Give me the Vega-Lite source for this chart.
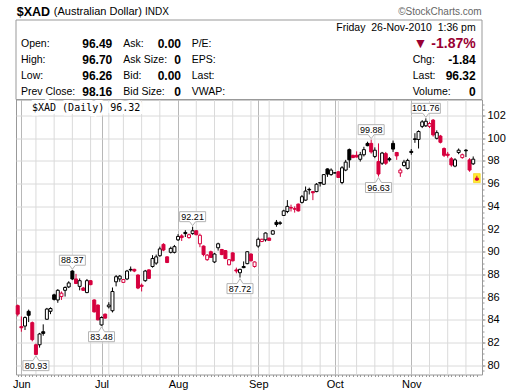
{
  "$schema": "https://vega.github.io/schema/vega-lite/v6.json",
  "background": "white",
  "autosize": {"type": "none"},
  "width": 466,
  "height": 275,
  "padding": {"left": 16, "top": 99.5, "right": 38, "bottom": 16.5},
  "config": {
    "font": "Liberation Sans",
    "view": {"stroke": "#999999", "strokeWidth": 1},
    "axis": {"labelFont": "Liberation Sans", "title": null}
  },
  "datasets": {
    "ohlc": [
      {"date":"2010-05-28","open":85.25,"high":85.35,"low":84.3,"close":84.5,"dir":"dn"},
      {"date":"2010-06-01","open":83.4,"high":84.3,"low":82.95,"close":83.3,"dir":"dn"},
      {"date":"2010-06-02","open":83.45,"high":84.3,"low":83.1,"close":84.2,"dir":"up"},
      {"date":"2010-06-03","open":84.75,"high":84.9,"low":83.8,"close":84.4,"dir":"up"},
      {"date":"2010-06-04","open":83.75,"high":83.85,"low":82.1,"close":82.25,"dir":"dn"},
      {"date":"2010-06-07","open":81.8,"high":81.9,"low":80.93,"close":80.95,"dir":"dn"},
      {"date":"2010-06-08","open":81.8,"high":82.85,"low":81.55,"close":82.75,"dir":"up"},
      {"date":"2010-06-09","open":82.95,"high":83.6,"low":82.6,"close":82.8,"dir":"up"},
      {"date":"2010-06-10","open":84.05,"high":85.05,"low":84.0,"close":84.95,"dir":"up"},
      {"date":"2010-06-11","open":84.75,"high":85.1,"low":84.5,"close":85.0,"dir":"up"},
      {"date":"2010-06-14","open":86.2,"high":86.3,"low":85.7,"close":85.8,"dir":"up"},
      {"date":"2010-06-15","open":85.75,"high":86.7,"low":85.5,"close":86.6,"dir":"up"},
      {"date":"2010-06-16","open":86.05,"high":86.5,"low":85.75,"close":86.35,"dir":"dn"},
      {"date":"2010-06-17","open":86.6,"high":86.95,"low":86.05,"close":86.85,"dir":"up"},
      {"date":"2010-06-18","open":86.9,"high":87.4,"low":86.8,"close":87.25,"dir":"up"},
      {"date":"2010-06-21","open":88.3,"high":88.37,"low":87.5,"close":87.6,"dir":"up"},
      {"date":"2010-06-22","open":87.6,"high":88.05,"low":87.15,"close":87.2,"dir":"dn"},
      {"date":"2010-06-23","open":86.95,"high":87.65,"low":86.6,"close":87.45,"dir":"up"},
      {"date":"2010-06-24","open":86.8,"high":86.9,"low":86.55,"close":86.6,"dir":"dn"},
      {"date":"2010-06-25","open":86.4,"high":87.6,"low":86.35,"close":87.45,"dir":"up"},
      {"date":"2010-06-28","open":87.45,"high":87.5,"low":87.05,"close":87.1,"dir":"dn"},
      {"date":"2010-06-29","open":85.75,"high":85.8,"low":84.65,"close":84.7,"dir":"dn"},
      {"date":"2010-06-30","open":85.3,"high":85.35,"low":83.95,"close":84.0,"dir":"dn"},
      {"date":"2010-07-01","open":83.55,"high":84.3,"low":83.48,"close":84.2,"dir":"up"},
      {"date":"2010-07-02","open":84.5,"high":84.55,"low":84.1,"close":84.15,"dir":"dn"},
      {"date":"2010-07-06","open":85.15,"high":85.55,"low":85.0,"close":85.3,"dir":"up"},
      {"date":"2010-07-07","open":84.8,"high":86.85,"low":84.65,"close":86.5,"dir":"up"},
      {"date":"2010-07-08","open":87.35,"high":87.95,"low":86.95,"close":87.8,"dir":"up"},
      {"date":"2010-07-09","open":87.6,"high":87.95,"low":87.35,"close":87.85,"dir":"up"},
      {"date":"2010-07-12","open":87.3,"high":87.6,"low":87.25,"close":87.55,"dir":"dn"},
      {"date":"2010-07-13","open":87.6,"high":88.4,"low":87.5,"close":88.3,"dir":"up"},
      {"date":"2010-07-14","open":88.45,"high":88.7,"low":88.25,"close":88.4,"dir":"up"},
      {"date":"2010-07-15","open":88.45,"high":88.5,"low":88.2,"close":88.3,"dir":"dn"},
      {"date":"2010-07-16","open":87.95,"high":88.0,"low":86.7,"close":86.8,"dir":"dn"},
      {"date":"2010-07-19","open":87.05,"high":87.2,"low":86.5,"close":86.95,"dir":"dn"},
      {"date":"2010-07-20","open":87.45,"high":88.4,"low":87.35,"close":88.3,"dir":"up"},
      {"date":"2010-07-21","open":88.4,"high":88.45,"low":87.6,"close":87.65,"dir":"dn"},
      {"date":"2010-07-22","open":88.7,"high":89.7,"low":88.6,"close":89.4,"dir":"up"},
      {"date":"2010-07-23","open":89.0,"high":89.75,"low":88.85,"close":89.55,"dir":"up"},
      {"date":"2010-07-26","open":89.65,"high":90.45,"low":89.55,"close":90.25,"dir":"up"},
      {"date":"2010-07-27","open":90.65,"high":90.75,"low":90.05,"close":90.15,"dir":"dn"},
      {"date":"2010-07-28","open":89.55,"high":89.6,"low":89.0,"close":89.05,"dir":"dn"},
      {"date":"2010-07-29","open":89.95,"high":90.45,"low":89.85,"close":90.3,"dir":"up"},
      {"date":"2010-07-30","open":89.95,"high":90.6,"low":89.85,"close":90.45,"dir":"up"},
      {"date":"2010-08-02","open":91.05,"high":91.55,"low":90.95,"close":91.35,"dir":"up"},
      {"date":"2010-08-03","open":91.4,"high":91.55,"low":90.95,"close":91.25,"dir":"dn"},
      {"date":"2010-08-04","open":91.7,"high":91.9,"low":91.3,"close":91.6,"dir":"up"},
      {"date":"2010-08-05","open":91.25,"high":91.6,"low":91.15,"close":91.5,"dir":"dn"},
      {"date":"2010-08-06","open":91.6,"high":92.21,"low":91.5,"close":91.85,"dir":"up"},
      {"date":"2010-08-09","open":91.85,"high":91.9,"low":91.45,"close":91.5,"dir":"dn"},
      {"date":"2010-08-10","open":90.7,"high":91.6,"low":90.4,"close":91.45,"dir":"dn"},
      {"date":"2010-08-11","open":90.5,"high":90.55,"low":89.6,"close":89.75,"dir":"dn"},
      {"date":"2010-08-12","open":89.3,"high":89.8,"low":89.2,"close":89.7,"dir":"dn"},
      {"date":"2010-08-13","open":90.0,"high":90.1,"low":89.45,"close":89.5,"dir":"dn"},
      {"date":"2010-08-16","open":89.1,"high":89.9,"low":89.0,"close":89.8,"dir":"up"},
      {"date":"2010-08-17","open":90.35,"high":90.8,"low":90.1,"close":90.7,"dir":"up"},
      {"date":"2010-08-18","open":90.2,"high":90.25,"low":89.7,"close":89.75,"dir":"dn"},
      {"date":"2010-08-19","open":90.1,"high":90.15,"low":89.35,"close":89.4,"dir":"dn"},
      {"date":"2010-08-20","open":88.85,"high":89.35,"low":88.8,"close":89.3,"dir":"dn"},
      {"date":"2010-08-23","open":89.9,"high":89.95,"low":89.15,"close":89.2,"dir":"dn"},
      {"date":"2010-08-24","open":88.4,"high":88.6,"low":88.1,"close":88.3,"dir":"dn"},
      {"date":"2010-08-25","open":88.15,"high":88.5,"low":87.72,"close":88.45,"dir":"up"},
      {"date":"2010-08-26","open":88.7,"high":89.15,"low":88.55,"close":88.6,"dir":"up"},
      {"date":"2010-08-27","open":88.95,"high":90.05,"low":88.9,"close":90.0,"dir":"up"},
      {"date":"2010-08-30","open":89.8,"high":89.85,"low":89.15,"close":89.2,"dir":"dn"},
      {"date":"2010-08-31","open":88.7,"high":89.15,"low":88.6,"close":89.1,"dir":"dn"},
      {"date":"2010-09-01","open":90.5,"high":91.25,"low":90.35,"close":91.1,"dir":"up"},
      {"date":"2010-09-02","open":90.9,"high":91.15,"low":90.85,"close":91.1,"dir":"dn"},
      {"date":"2010-09-03","open":91.05,"high":91.7,"low":90.9,"close":91.65,"dir":"up"},
      {"date":"2010-09-07","open":91.2,"high":91.25,"low":90.95,"close":91.0,"dir":"dn"},
      {"date":"2010-09-08","open":91.55,"high":91.9,"low":91.5,"close":91.85,"dir":"up"},
      {"date":"2010-09-09","open":92.6,"high":92.8,"low":92.2,"close":92.4,"dir":"up"},
      {"date":"2010-09-10","open":92.55,"high":92.7,"low":92.35,"close":92.5,"dir":"up"},
      {"date":"2010-09-13","open":93.2,"high":93.7,"low":93.15,"close":93.6,"dir":"up"},
      {"date":"2010-09-14","open":93.55,"high":94.55,"low":93.4,"close":94.0,"dir":"up"},
      {"date":"2010-09-15","open":93.9,"high":94.15,"low":93.55,"close":93.85,"dir":"dn"},
      {"date":"2010-09-16","open":93.8,"high":94.0,"low":93.45,"close":93.75,"dir":"dn"},
      {"date":"2010-09-17","open":94.2,"high":94.25,"low":93.55,"close":93.6,"dir":"dn"},
      {"date":"2010-09-20","open":94.35,"high":95.0,"low":94.25,"close":94.85,"dir":"up"},
      {"date":"2010-09-21","open":94.55,"high":95.75,"low":94.5,"close":95.35,"dir":"up"},
      {"date":"2010-09-22","open":95.5,"high":95.65,"low":95.05,"close":95.45,"dir":"up"},
      {"date":"2010-09-23","open":95.3,"high":95.35,"low":94.55,"close":95.2,"dir":"dn"},
      {"date":"2010-09-24","open":95.3,"high":96.05,"low":95.25,"close":95.95,"dir":"up"},
      {"date":"2010-09-27","open":96.1,"high":96.15,"low":95.75,"close":96.05,"dir":"up"},
      {"date":"2010-09-28","open":95.95,"high":96.85,"low":95.9,"close":96.8,"dir":"up"},
      {"date":"2010-09-29","open":97.3,"high":97.35,"low":96.6,"close":96.85,"dir":"up"},
      {"date":"2010-09-30","open":96.8,"high":97.35,"low":96.7,"close":97.2,"dir":"up"},
      {"date":"2010-10-01","open":96.95,"high":97.0,"low":96.9,"close":96.95,"dir":"up"},
      {"date":"2010-10-04","open":97.05,"high":97.1,"low":96.5,"close":96.55,"dir":"dn"},
      {"date":"2010-10-05","open":96.1,"high":97.55,"low":95.95,"close":97.4,"dir":"up"},
      {"date":"2010-10-06","open":97.2,"high":98.1,"low":97.1,"close":97.9,"dir":"up"},
      {"date":"2010-10-07","open":99.0,"high":99.1,"low":97.4,"close":98.1,"dir":"up"},
      {"date":"2010-10-08","open":98.5,"high":98.55,"low":98.25,"close":98.3,"dir":"dn"},
      {"date":"2010-10-11","open":98.5,"high":98.85,"low":98.3,"close":98.35,"dir":"dn"},
      {"date":"2010-10-12","open":98.15,"high":98.8,"low":97.95,"close":98.55,"dir":"up"},
      {"date":"2010-10-13","open":98.55,"high":99.25,"low":98.4,"close":99.0,"dir":"up"},
      {"date":"2010-10-14","open":99.55,"high":99.7,"low":99.3,"close":99.35,"dir":"up"},
      {"date":"2010-10-15","open":99.55,"high":99.88,"low":98.65,"close":98.8,"dir":"dn"},
      {"date":"2010-10-18","open":98.4,"high":99.2,"low":98.25,"close":98.95,"dir":"up"},
      {"date":"2010-10-19","open":97.95,"high":99.55,"low":96.63,"close":96.85,"dir":"dn"},
      {"date":"2010-10-20","open":97.8,"high":98.8,"low":97.65,"close":98.7,"dir":"up"},
      {"date":"2010-10-21","open":98.65,"high":98.8,"low":97.65,"close":97.8,"dir":"dn"},
      {"date":"2010-10-22","open":98.2,"high":98.35,"low":97.95,"close":98.1,"dir":"up"},
      {"date":"2010-10-25","open":99.55,"high":99.8,"low":98.8,"close":99.05,"dir":"up"},
      {"date":"2010-10-26","open":98.75,"high":98.8,"low":98.1,"close":98.45,"dir":"dn"},
      {"date":"2010-10-27","open":96.95,"high":97.35,"low":96.6,"close":97.2,"dir":"dn"},
      {"date":"2010-10-28","open":97.6,"high":98.1,"low":97.5,"close":97.9,"dir":"up"},
      {"date":"2010-10-29","open":97.35,"high":98.2,"low":97.25,"close":98.05,"dir":"up"},
      {"date":"2010-11-01","open":98.85,"high":99.05,"low":98.55,"close":98.75,"dir":"up"},
      {"date":"2010-11-02","open":99.95,"high":100.45,"low":99.6,"close":99.9,"dir":"up"},
      {"date":"2010-11-03","open":99.9,"high":100.7,"low":99.1,"close":100.6,"dir":"up"},
      {"date":"2010-11-04","open":101.05,"high":101.6,"low":100.9,"close":101.45,"dir":"up"},
      {"date":"2010-11-05","open":101.1,"high":101.76,"low":101.0,"close":101.5,"dir":"up"},
      {"date":"2010-11-08","open":101.05,"high":101.45,"low":100.9,"close":101.3,"dir":"dn"},
      {"date":"2010-11-09","open":101.6,"high":101.7,"low":100.15,"close":100.3,"dir":"dn"},
      {"date":"2010-11-10","open":100.0,"high":100.7,"low":99.9,"close":100.5,"dir":"up"},
      {"date":"2010-11-11","open":100.2,"high":100.3,"low":99.55,"close":99.65,"dir":"dn"},
      {"date":"2010-11-12","open":99.1,"high":99.2,"low":98.35,"close":98.5,"dir":"dn"},
      {"date":"2010-11-15","open":98.6,"high":98.8,"low":98.3,"close":98.5,"dir":"dn"},
      {"date":"2010-11-16","open":98.2,"high":98.35,"low":97.5,"close":97.65,"dir":"dn"},
      {"date":"2010-11-17","open":97.55,"high":98.25,"low":97.45,"close":98.1,"dir":"up"},
      {"date":"2010-11-18","open":98.75,"high":99.1,"low":98.6,"close":98.95,"dir":"up"},
      {"date":"2010-11-19","open":98.3,"high":98.65,"low":98.2,"close":98.55,"dir":"dn"},
      {"date":"2010-11-22","open":98.95,"high":99.05,"low":98.35,"close":98.9,"dir":"up"},
      {"date":"2010-11-23","open":98.1,"high":98.25,"low":97.05,"close":97.2,"dir":"dn"},
      {"date":"2010-11-24","open":97.75,"high":98.4,"low":97.65,"close":98.16,"dir":"up"},
      {"date":"2010-11-26","open":96.49,"high":96.7,"low":96.26,"close":96.32,"dir":"dn"}
    ],
    "weeks": [
      {"date":"2010-06-07"},{"date":"2010-06-14"},{"date":"2010-06-21"},{"date":"2010-06-28"},
      {"date":"2010-07-06"},{"date":"2010-07-12"},{"date":"2010-07-19"},{"date":"2010-07-26"},
      {"date":"2010-08-09"},{"date":"2010-08-16"},{"date":"2010-08-23"},{"date":"2010-08-30"},
      {"date":"2010-09-07"},{"date":"2010-09-13"},{"date":"2010-09-20"},{"date":"2010-09-27"},
      {"date":"2010-10-04"},{"date":"2010-10-11"},{"date":"2010-10-18"},{"date":"2010-10-25"},
      {"date":"2010-11-08"},{"date":"2010-11-15"},{"date":"2010-11-22"}
    ],
    "marks": [
      {"date":"2010-06-07","v":80.93,"pos":"lo"},
      {"date":"2010-06-21","v":88.37,"pos":"hi"},
      {"date":"2010-07-01","v":83.48,"pos":"lo"},
      {"date":"2010-08-06","v":92.21,"pos":"hi"},
      {"date":"2010-08-25","v":87.72,"pos":"lo"},
      {"date":"2010-10-15","v":99.88,"pos":"hi"},
      {"date":"2010-10-19","v":96.63,"pos":"lo"},
      {"date":"2010-11-05","v":101.76,"pos":"hi"}
    ],
    "head": [
      {"g":"J","r":"0","t":"$XAD"},
      {"g":"K","r":"0","t":"(Australian Dollar)"},
      {"g":"L","r":"0","t":"INDX"},
      {"g":"M","r":"0","t":"©StockCharts.com"},
      {"g":"H","r":"1","t":"Friday\u00a0 26-Nov-2010\u00a0 1:36 pm"},
      {"g":"A","r":"2","t":"Open:"},
      {"g":"A","r":"3","t":"High:"},
      {"g":"A","r":"4","t":"Low:"},
      {"g":"A","r":"5","t":"Prev Close:"},
      {"g":"B","r":"2","t":"96.49"},
      {"g":"B","r":"3","t":"96.70"},
      {"g":"B","r":"4","t":"96.26"},
      {"g":"B","r":"5","t":"98.16"},
      {"g":"C","r":"2","t":"Ask:"},
      {"g":"C","r":"3","t":"Ask Size:"},
      {"g":"C","r":"4","t":"Bid:"},
      {"g":"C","r":"5","t":"Bid Size:"},
      {"g":"D","r":"2","t":"0.00"},
      {"g":"D","r":"3","t":"0"},
      {"g":"D","r":"4","t":"0.00"},
      {"g":"D","r":"5","t":"0"},
      {"g":"E","r":"2","t":"P/E:"},
      {"g":"E","r":"3","t":"EPS:"},
      {"g":"E","r":"4","t":"Last:"},
      {"g":"E","r":"5","t":"VWAP:"},
      {"g":"I","r":"2","t":"▼ -1.87%"},
      {"g":"F","r":"3","t":"Chg:"},
      {"g":"F","r":"4","t":"Last:"},
      {"g":"F","r":"5","t":"Volume:"},
      {"g":"G","r":"3","t":"-1.84"},
      {"g":"G","r":"4","t":"96.32"},
      {"g":"G","r":"5","t":"0"},
      {"g":"N","r":"6","t":"$XAD (Daily) 96.32"}
    ]
  },
  "resolve": {"scale": {"y": "independent"}},
  "layer": [
    {
      "data": {"name": "ohlc"},
      "resolve": {"axis": {"x": "independent", "y": "independent"}},
      "layer": [
        {
          "data": {"name": "weeks"},
          "mark": {"type": "rule", "color": "#dadada", "strokeWidth": 1},
          "encoding": {
            "x": {"field": "date", "type": "ordinal", "axis": null}
          }
        },
        {
          "transform": [{"filter": "datum.date == '2010-11-26'"}],
          "mark": {"type": "point", "shape": "M-0.75,-1H0.75V1H-0.75Z", "size": 81, "filled": true, "fill": "#ffee33", "stroke": "#f5cc00", "strokeWidth": 0.6, "opacity": 1},
          "encoding": {
            "x": {"field": "date", "type": "ordinal", "axis": null},
            "y": {"field": "open", "type": "quantitative", "axis": {"orient": "right", "values": [79.5,80,80.5,81,81.5,82,82.5,83,83.5,84,84.5,85,85.5,86,86.5,87,87.5,88,88.5,89,89.5,90,90.5,91,91.5,92,92.5,93,93.5,94,94.5,95,95.5,96,96.5,97,97.5,98,98.5,99,99.5,100,100.5,101,101.5,102,102.5,103], "grid": false, "tickSize": 2, "tickColor": "#999999", "labels": false, "domain": false, "title": null}}
          }
        },
        {
          "mark": {"type": "rule", "strokeWidth": 1},
          "encoding": {
            "x": {"field": "date", "type": "ordinal", "scale": {"type": "point", "padding": 0.94, "align": 0.25}, "axis": {"orient": "bottom", "values": ["2010-06-01","2010-07-01","2010-08-02","2010-09-01","2010-10-01","2010-11-01"], "labelExpr": "substring('JanFebMarAprMayJunJulAugSepOctNovDec', (toNumber(substring(datum.value,5,7))-1)*3, toNumber(substring(datum.value,5,7))*3)", "grid": true, "gridColor": "#b8b8b8", "gridWidth": 1, "ticks": false, "labelPadding": 4, "labelFontSize": 11, "labelColor": "#000", "labelAngle": 0, "labelBaseline": "top", "domain": false, "title": null}},
            "y": {"field": "low", "type": "quantitative", "scale": {"domain": [79.18, 103.42], "nice": false, "zero": false}, "axis": {"orient": "right", "values": [80,82,84,86,88,90,92,94,96,98,100,102], "grid": true, "gridColor": "#dadada", "gridWidth": 1, "tickSize": 3, "tickColor": "#999999", "labelFontSize": 11, "labelColor": "#000", "labelPadding": 2, "domain": false, "title": null}},
            "y2": {"field": "high"},
            "stroke": {"field": "dir", "type": "nominal", "scale": {"domain": ["up","dn"], "range": ["#000000","#d6003e"]}, "legend": null}
          }
        },
        {
          "mark": {"type": "bar", "width": 3, "strokeWidth": 1},
          "encoding": {
            "x": {"field": "date", "type": "ordinal", "axis": {"orient": "bottom", "grid": false, "ticks": true, "tickSize": 2, "tickColor": "#999999", "labels": false, "domain": false, "title": null}},
            "y": {"field": "open", "type": "quantitative", "axis": null},
            "y2": {"field": "close"},
            "stroke": {"field": "dir", "type": "nominal", "scale": {"domain": ["up","dn"], "range": ["#000000","#d6003e"]}, "legend": null},
            "fill": {"condition": {"test": "datum.close > datum.open", "value": "#ffffff"}, "field": "dir", "type": "nominal", "scale": {"domain": ["up","dn"], "range": ["#000000","#d6003e"]}, "legend": null}
          }
        },
        {
          "data": {"name": "marks"},
          "mark": {"type": "point", "filled": true, "fill": "#ffffff", "stroke": "#b4b4b4", "strokeWidth": 1, "size": 676, "opacity": 1},
          "encoding": {
            "x": {"field": "date", "type": "ordinal", "axis": null},
            "y": {"field": "v", "type": "quantitative", "axis": null},
            "shape": {"condition": {"test": "datum.v >= 100", "value": "M-1.12,-1.154H1.12V-0.385H0.23L0,-0.08L-0.23,-0.385H-1.12Z"}, "field": "pos", "type": "nominal", "scale": {"domain": ["hi","lo"], "range": ["M-1,-1.154H1V-0.385H0.23L0,-0.08L-0.23,-0.385H-1Z", "M-1,0.46H-0.23L0,0.08L0.23,0.46H1V1.23H-1Z"]}, "legend": null}
          }
        },
        {
          "data": {"name": "marks"},
          "transform": [{"filter": "datum.pos == 'hi'"}],
          "mark": {"type": "text", "dy": -10, "fontSize": 9, "baseline": "middle", "color": "#000"},
          "encoding": {
            "x": {"field": "date", "type": "ordinal", "axis": null},
            "y": {"field": "v", "type": "quantitative", "axis": null},
            "text": {"field": "v", "type": "quantitative", "format": ".2f"}
          }
        },
        {
          "data": {"name": "marks"},
          "transform": [{"filter": "datum.pos == 'lo'"}],
          "mark": {"type": "text", "dy": 11, "fontSize": 9, "baseline": "middle", "color": "#000"},
          "encoding": {
            "x": {"field": "date", "type": "ordinal", "axis": null},
            "y": {"field": "v", "type": "quantitative", "axis": null},
            "text": {"field": "v", "type": "quantitative", "format": ".2f"}
          }
        }
      ]
    },
    {
      "data": {"name": "head"},
      "encoding": {
        "y": {"field": "r", "type": "ordinal", "axis": null, "scale": {"type": "point", "domain": ["0","1","2","3","4","5","6"], "range": [-87.7, 8.0], "padding": 0}},
        "text": {"field": "t"}
      },
      "layer": [
        {"mark": {"type": "rect", "fill": null, "stroke": "#999999", "strokeWidth": 1}, "encoding": {"x": {"value": 0}, "x2": {"value": 466}, "y": {"value": -79.5}, "y2": {"value": 0}, "text": null}, "transform": [{"filter": "datum.g == 'H'"}]},
        {"transform": [{"filter": "datum.g == 'A'"}], "mark": {"type": "text", "align": "left", "baseline": "middle", "fontSize": 10.5, "color": "#000"}, "encoding": {"x": {"value": 5}}},
        {"transform": [{"filter": "datum.g == 'B'"}], "mark": {"type": "text", "align": "right", "baseline": "middle", "fontSize": 12, "fontWeight": "bold", "color": "#000"}, "encoding": {"x": {"value": 96.3}}},
        {"transform": [{"filter": "datum.g == 'C'"}], "mark": {"type": "text", "align": "left", "baseline": "middle", "fontSize": 10.5, "color": "#000"}, "encoding": {"x": {"value": 107.3}}},
        {"transform": [{"filter": "datum.g == 'D'"}], "mark": {"type": "text", "align": "right", "baseline": "middle", "fontSize": 12, "fontWeight": "bold", "color": "#000"}, "encoding": {"x": {"value": 165}}},
        {"transform": [{"filter": "datum.g == 'E'"}], "mark": {"type": "text", "align": "left", "baseline": "middle", "fontSize": 10.5, "color": "#000"}, "encoding": {"x": {"value": 175.7}}},
        {"transform": [{"filter": "datum.g == 'F'"}], "mark": {"type": "text", "align": "left", "baseline": "middle", "fontSize": 10.5, "color": "#000"}, "encoding": {"x": {"value": 396.7}}},
        {"transform": [{"filter": "datum.g == 'G'"}], "mark": {"type": "text", "align": "right", "baseline": "middle", "fontSize": 12, "fontWeight": "bold", "color": "#000"}, "encoding": {"x": {"value": 459.7}}},
        {"transform": [{"filter": "datum.g == 'H'"}], "mark": {"type": "text", "align": "right", "baseline": "middle", "fontSize": 10.5, "color": "#000"}, "encoding": {"x": {"value": 459.7}}},
        {"transform": [{"filter": "datum.g == 'I'"}], "mark": {"type": "text", "align": "right", "baseline": "middle", "fontSize": 14, "fontWeight": "bold", "color": "#990033"}, "encoding": {"x": {"value": 459.7}}},
        {"transform": [{"filter": "datum.g == 'J'"}], "mark": {"type": "text", "align": "left", "baseline": "middle", "fontSize": 12.5, "fontWeight": "bold", "color": "#000"}, "encoding": {"x": {"value": 0.7}}},
        {"transform": [{"filter": "datum.g == 'K'"}], "mark": {"type": "text", "align": "left", "baseline": "middle", "fontSize": 11, "color": "#000"}, "encoding": {"x": {"value": 37.8}}},
        {"transform": [{"filter": "datum.g == 'L'"}], "mark": {"type": "text", "align": "left", "baseline": "middle", "fontSize": 10, "color": "#000"}, "encoding": {"x": {"value": 129}}},
        {"transform": [{"filter": "datum.g == 'M'"}], "mark": {"type": "text", "align": "right", "baseline": "middle", "fontSize": 10, "color": "#666666"}, "encoding": {"x": {"value": 465.7}}},
        {"transform": [{"filter": "datum.g == 'N'"}], "mark": {"type": "text", "align": "left", "baseline": "middle", "font": "DejaVu Sans Mono", "fontSize": 10, "fill": "#ffffff", "stroke": "#ffffff", "strokeWidth": 6, "strokeJoin": "miter"}, "encoding": {"x": {"value": 16}}},
        {"transform": [{"filter": "datum.g == 'N'"}], "mark": {"type": "text", "align": "left", "baseline": "middle", "font": "DejaVu Sans Mono", "fontSize": 10, "color": "#000"}, "encoding": {"x": {"value": 16}}}
      ]
    }
  ]
}
